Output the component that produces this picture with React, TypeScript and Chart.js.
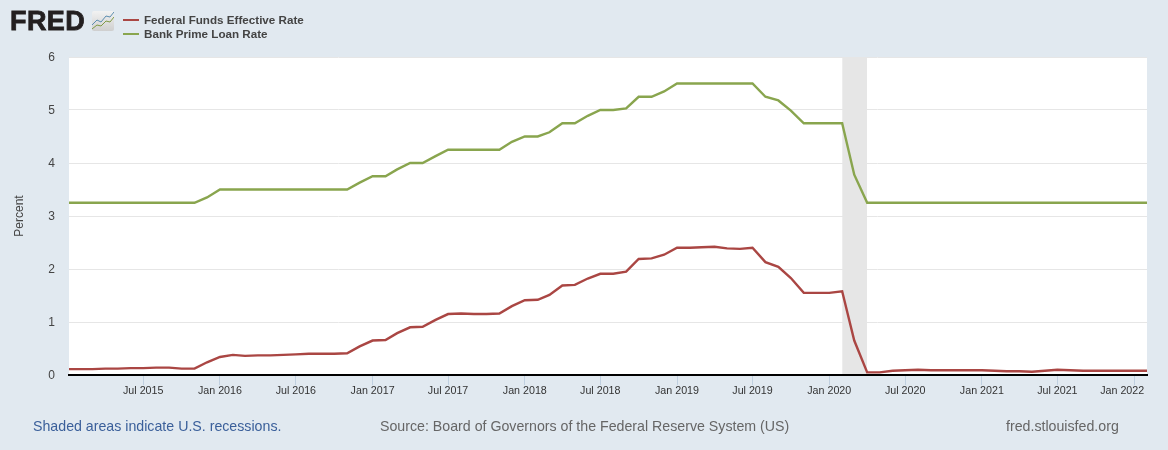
import React, { useEffect, useRef } from "react";
import { Chart, registerables } from "chart.js";

Chart.register(...registerables);

const startYear = 2015;
const fedFunds = [
  0.11, 0.11, 0.11, 0.12, 0.12, 0.13, 0.13, 0.14, 0.14, 0.12, 0.12, 0.24,
  0.34, 0.38, 0.36, 0.37, 0.37, 0.38, 0.39, 0.40, 0.40, 0.40, 0.41, 0.54,
  0.65, 0.66, 0.79, 0.90, 0.91, 1.04, 1.15, 1.16, 1.15, 1.15, 1.16, 1.30,
  1.41, 1.42, 1.51, 1.69, 1.70, 1.82, 1.91, 1.91, 1.95, 2.19, 2.20, 2.27,
  2.40, 2.40, 2.41, 2.42, 2.39, 2.38, 2.40, 2.13, 2.04, 1.83, 1.55, 1.55,
  1.55, 1.58, 0.65, 0.05, 0.05, 0.08, 0.09, 0.10, 0.09, 0.09, 0.09, 0.09,
  0.09, 0.08, 0.07, 0.07, 0.06, 0.08, 0.10, 0.09, 0.08, 0.08, 0.08, 0.08,
  0.08, 0.08,
];
const primeRate = [
  3.25, 3.25, 3.25, 3.25, 3.25, 3.25, 3.25, 3.25, 3.25, 3.25, 3.25, 3.35,
  3.5, 3.5, 3.5, 3.5, 3.5, 3.5, 3.5, 3.5, 3.5, 3.5, 3.5, 3.63,
  3.75, 3.75, 3.88, 4.0, 4.0, 4.13, 4.25, 4.25, 4.25, 4.25, 4.25, 4.4,
  4.5, 4.5, 4.58, 4.75, 4.75, 4.89, 5.0, 5.0, 5.03, 5.25, 5.25, 5.35,
  5.5, 5.5, 5.5, 5.5, 5.5, 5.5, 5.5, 5.25, 5.18, 4.99, 4.75, 4.75,
  4.75, 4.75, 3.78, 3.25, 3.25, 3.25, 3.25, 3.25, 3.25, 3.25, 3.25, 3.25,
  3.25, 3.25, 3.25, 3.25, 3.25, 3.25, 3.25, 3.25, 3.25, 3.25, 3.25, 3.25,
  3.25, 3.25,
];
const tickYears = [2015, 2016, 2016, 2017, 2017, 2018, 2018, 2019, 2019, 2020, 2020, 2021, 2021, 2022];
const tickMonths = [6, 0, 6, 0, 6, 0, 6, 0, 6, 0, 6, 0, 6, 0];
const monthNames = ["Jan", "Feb", "Mar", "Apr", "May", "Jun", "Jul", "Aug", "Sep", "Oct", "Nov", "Dec"];
const recessionStart = [2020, 1];
const recessionEnd = [2020, 3];
const axisStart = [2015, 0, 4];
const axisEnd = [2022, 1, 1];

const day = 86400000;
const monthTime = (index: number) => Date.UTC(startYear, index, 1) / day;

const whitePlot = {
  id: "whitePlot",
  beforeDraw(chart: any) {
    const { ctx, chartArea: a } = chart;
    ctx.save();
    ctx.fillStyle = "#ffffff";
    ctx.fillRect(a.left, a.top, a.right - a.left, a.bottom - a.top);
    ctx.restore();
  },
};

const FONT = "'Liberation Sans', Arial, sans-serif";
const legendStyle: React.CSSProperties = {
  position: "absolute", left: 144, font: `bold 11.65px ${FONT}`, color: "#444444", whiteSpace: "nowrap", lineHeight: "14px",
};
const footStyle: React.CSSProperties = {
  position: "absolute", top: 417, font: `14.2px ${FONT}`, lineHeight: "18px", color: "#666666", whiteSpace: "nowrap",
};

export default function App() {
  const ref = useRef<HTMLCanvasElement>(null);
  useEffect(() => {
    document.body.style.margin = "0";
    document.body.style.background = "#e1e9f0";
    const tickValues = tickYears.map((y, i) => Date.UTC(y, tickMonths[i], 1) / day);
    const chart = new Chart(ref.current!, {
      type: "line",
      data: {
        datasets: [
          {
            label: "Federal Funds Effective Rate",
            data: fedFunds.map((y, i) => ({ x: monthTime(i), y })),
            borderColor: "#aa4643", borderWidth: 2.4, pointRadius: 0, tension: 0,
            order: 2,
          },
          {
            label: "Bank Prime Loan Rate",
            data: primeRate.map((y, i) => ({ x: monthTime(i), y })),
            borderColor: "#89a54e", borderWidth: 2.4, pointRadius: 0, tension: 0,
            order: 1,
          },
          {
            label: "Recession",
            data: [
              { x: Date.UTC(recessionStart[0], recessionStart[1], 1) / day, y: 6 },
              { x: Date.UTC(recessionEnd[0], recessionEnd[1], 1) / day, y: 6 },
            ],
            borderWidth: 0, borderColor: "transparent", backgroundColor: "#e6e6e6",
            fill: "origin", pointRadius: 0, order: 3,
          },
        ],
      },
      options: {
        animation: false,
        responsive: false,
        layout: { padding: { top: 57, right: 21, left: 0, bottom: 0 } },
        plugins: { legend: { display: false }, tooltip: { enabled: false } },
        scales: {
          x: {
            type: "linear",
            min: Date.UTC(axisStart[0], axisStart[1], axisStart[2]) / day,
            max: Date.UTC(axisEnd[0], axisEnd[1], axisEnd[2]) / day,
            afterBuildTicks(scale: any) {
              scale.ticks = tickValues.map((value) => ({ value }));
            },
            afterFit(scale: any) {
              scale.height = 75;
              scale.paddingLeft = 0;
              scale.paddingRight = 0;
            },
            grid: { drawOnChartArea: false, drawTicks: true, tickLength: 10, color: "#c0d0e0", lineWidth: 1 },
            border: { display: true, color: "#000000", width: 2, z: 1 },
            ticks: {
              autoSkip: false, maxRotation: 0, minRotation: 0, padding: 0,
              color: "#333333",
              font: { family: FONT, size: 10.7 },
              callback(value: any) {
                const d = new Date(Number(value) * day);
                const text = `${monthNames[d.getUTCMonth()]} ${d.getUTCFullYear()}`;
                return d.getUTCFullYear() === 2022 ? text + "\u00a0".repeat(8) : text;
              },
            },
          },
          y: {
            min: 0, max: 6,
            afterFit(scale: any) {
              scale.width = 69;
              scale.paddingTop = 0;
              scale.paddingBottom = 0;
            },
            grid: {
              color: (c: any) => (c.tick && c.tick.value === 0 ? "transparent" : "#e6e6e6"),
              lineWidth: 1, drawTicks: false,
            },
            border: { display: false },
            ticks: { stepSize: 1, padding: 14, labelOffset: 1, color: "#444444", font: { family: FONT, size: 12 } },
            title: { display: true, text: "Percent", color: "#444444", font: { family: FONT, size: 12 }, padding: { top: 12, bottom: 0 } },
          },
        },
      },
      plugins: [whitePlot],
    } as any);
    return () => chart.destroy();
  }, []);

  return (
    <div style={{ position: "relative", width: 1168, height: 450, background: "#e1e9f0", overflow: "hidden" }}>
      <canvas ref={ref} width={1168} height={450} style={{ display: "block", width: 1168, height: 450 }} />
      <div style={{ position: "absolute", left: 10, top: 6, font: `bold 27px ${FONT}`, lineHeight: "30px", color: "#231f20", letterSpacing: 0.4, WebkitTextStroke: "0.8px #231f20" }}>FRED</div>
      <svg style={{ position: "absolute", left: 92, top: 11 }} width={22} height={20} viewBox="0 0 22 20">
        <defs>
          <linearGradient id="iconBg" x1="0" y1="0" x2="0" y2="1">
            <stop offset="0" stopColor="#f2f2f2" />
            <stop offset="1" stopColor="#cfcfcf" />
          </linearGradient>
        </defs>
        <rect width="22" height="20" rx="2" fill="url(#iconBg)" />
        <polyline points="0,14 5,9 9,11 14,5 18,6 22,1" fill="none" stroke="#5b8db0" strokeWidth="1" />
        <polyline points="0,18 5,14 9,15 14,10 18,11 22,6" fill="none" stroke="#7f9a45" strokeWidth="1" />
      </svg>
      <div style={{ position: "absolute", left: 123, top: 19, width: 16, height: 2, background: "#aa4643" }} />
      <div style={{ position: "absolute", left: 123, top: 33, width: 16, height: 2, background: "#89a54e" }} />
      <div style={{ ...legendStyle, top: 13 }}>Federal Funds Effective Rate</div>
      <div style={{ ...legendStyle, top: 27 }}>Bank Prime Loan Rate</div>
      <div style={{ ...footStyle, left: 33, color: "#3a5f9a" }}>Shaded areas indicate U.S. recessions.</div>
      <div style={{ ...footStyle, left: 380 }}>Source: Board of Governors of the Federal Reserve System (US)</div>
      <div style={{ ...footStyle, left: 1006 }}>fred.stlouisfed.org</div>
    </div>
  );
}
